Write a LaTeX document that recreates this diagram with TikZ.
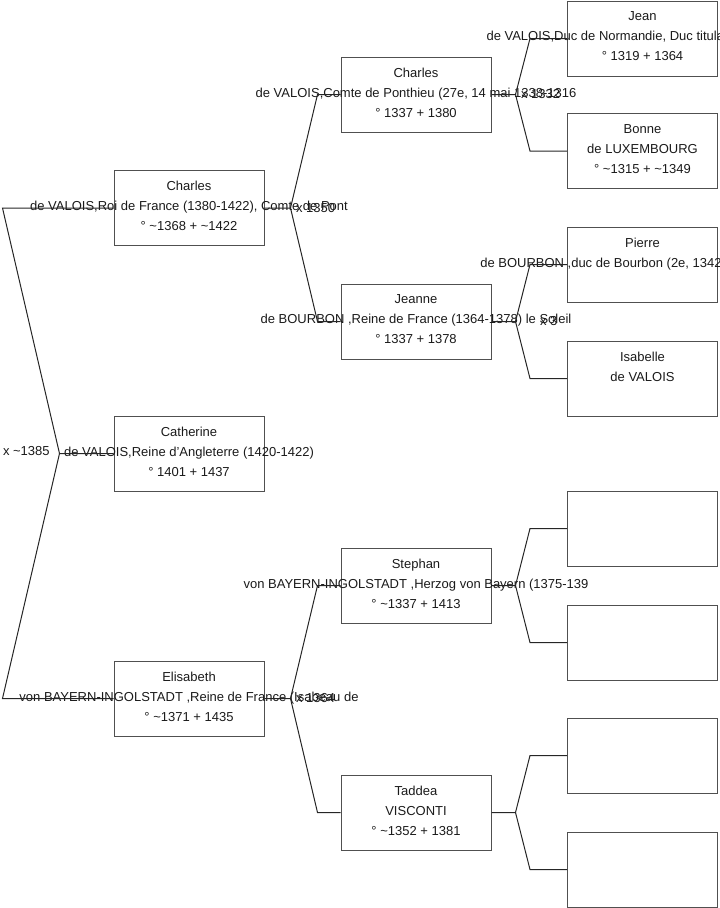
\documentclass[tikz,border=0pt]{standalone}
\usepackage{fontspec}
\setmainfont{Liberation Sans}
\usetikzlibrary{positioning}
\definecolor{boxline}{HTML}{505050}
\definecolor{linkline}{HTML}{262626}
\definecolor{inktext}{HTML}{1A1A1A}

\begin{document}
\begin{tikzpicture}[x=0.75pt, y=-0.75pt, line width=0.75pt,
    every node/.style={font=\fontsize{9.75}{15}\selectfont, text=inktext},
    person/.style={draw=boxline, minimum width=112.5pt, minimum height=56.25pt, inner sep=0pt},
    info/.style={align=center, inner sep=0pt},
    link/.style={draw=linkline},
    wed/.style={anchor=west, inner sep=0pt}]

    % Page frame (clips the long title lines at the border)
    \useasboundingbox (0,0) rectangle (719,908);
    \clip (0,0) rectangle (719,908);

    % Generation 1: the child and her parents
    \node[person] (charlesvi) at (189,208) {};
    \node[person] (catherine) at (189,453.5) {};
    \node[person] (elisabeth) at (189,698.5) {};

    % Generation 2
    \node[person] (charlesv) at (416,94.5) {};
    \node[person] (jeanne) at (416,321.5) {};
    \node[person] (stephan) at (416,585.5) {};
    \node[person] (taddea) at (416,812.5) {};

    % Generation 3 (last four unknown)
    \node[person] (jean) at (642.5,38.5) {};
    \node[person] (bonne) at (642.5,151) {};
    \node[person] (pierre) at (642.5,264.5) {};
    \node[person] (isabelle) at (642.5,378.5) {};
    \node[person] (unknowna) at (642.5,528.5) {};
    \node[person] (unknownb) at (642.5,642.5) {};
    \node[person] (unknownc) at (642.5,755.5) {};
    \node[person] (unknownd) at (642.5,869.5) {};

    % Text of each box, three lines from the top
    \node[info, below=8.25pt of charlesvi.north] (charlesvi-t) {Charles\\de VALOIS,Roi de France (1380-1422), Comte de Pont\\° \textasciitilde1368 + \textasciitilde1422};
    \node[info, below=8.25pt of catherine.north] (catherine-t) {Catherine\\de VALOIS,Reine d'Angleterre (1420-1422)\\° 1401 + 1437};
    \node[info, below=8.25pt of elisabeth.north] (elisabeth-t) {Elisabeth\\von BAYERN-INGOLSTADT ,Reine de France (Isabeau de\\° \textasciitilde1371 + 1435};
    \node[info, below=8.25pt of charlesv.north] (charlesv-t) {Charles\\de VALOIS,Comte de Ponthieu (27e, 14 mai 1338-1316\\° 1337 + 1380};
    \node[info, below=8.25pt of jeanne.north] (jeanne-t) {Jeanne\\de BOURBON ,Reine de France (1364-1378) le Soleil\\° 1337 + 1378};
    \node[info, below=8.25pt of stephan.north] (stephan-t) {Stephan\\von BAYERN-INGOLSTADT ,Herzog von Bayern (1375-139\\° \textasciitilde1337 + 1413};
    \node[info, below=8.25pt of taddea.north] (taddea-t) {Taddea\\VISCONTI\\° \textasciitilde1352 + 1381};
    \node[info, below=8.25pt of jean.north] (jean-t) {Jean\\de VALOIS,Duc de Normandie, Duc titulaire de Guyen\\° 1319 + 1364};
    \node[info, below=8.25pt of bonne.north] (bonne-t) {Bonne\\de LUXEMBOURG\\° \textasciitilde1315 + \textasciitilde1349};
    \node[info, below=8.25pt of pierre.north] (pierre-t) {Pierre\\de BOURBON ,duc de Bourbon (2e, 1342-1356), Comte};
    \node[info, below=8.25pt of isabelle.north] (isabelle-t) {Isabelle\\de VALOIS};

    % Fork from Catherine back to her parents
    \draw[link] (catherine.west) -- ++(-54,0) coordinate (fork0)
        -- ([xshift=-83.25pt]charlesvi.west) -- (charlesvi.west);
    \draw[link] (fork0) -- ([xshift=-83.25pt]elisabeth.west) -- (elisabeth.west);
    \node[wed] (wed0) at ([xshift=-83.25pt, yshift=1.5pt]catherine.west) {x \textasciitilde1385};

    % Forks generation 1 -> 2
    \foreach \kid/\dad/\mum in {charlesvi/charlesv/jeanne, elisabeth/stephan/taddea} {
        \draw[link] (\kid.east) -- ++(26,0) coordinate (fork-\kid)
            -- ([xshift=-17.25pt]\dad.west) -- (\dad.west);
        \draw[link] (fork-\kid) -- ([xshift=-17.25pt]\mum.west) -- (\mum.west);
    }

    % Forks generation 2 -> 3
    \foreach \kid/\dad/\mum in {charlesv/jean/bonne, jeanne/pierre/isabelle,
                                stephan/unknowna/unknownb, taddea/unknownc/unknownd} {
        \draw[link] (\kid.east) -- ++(24,0) coordinate (fork-\kid)
            -- ([xshift=-27.75pt]\dad.west) -- (\dad.west);
        \draw[link] (fork-\kid) -- ([xshift=-27.75pt]\mum.west) -- (\mum.west);
    }

    % Marriage years next to the forks
    \node[wed, right=3.75pt of fork-charlesvi] (wed1) {x 1350};
    \node[wed, right=3.75pt of fork-elisabeth] (wed2) {x 1364};
    \node[wed, right=3.75pt of fork-charlesv] (wed3) {x 1332};
    \node[wed, right=18pt of fork-jeanne] (wed4) {x 3};
\end{tikzpicture}
\end{document}
